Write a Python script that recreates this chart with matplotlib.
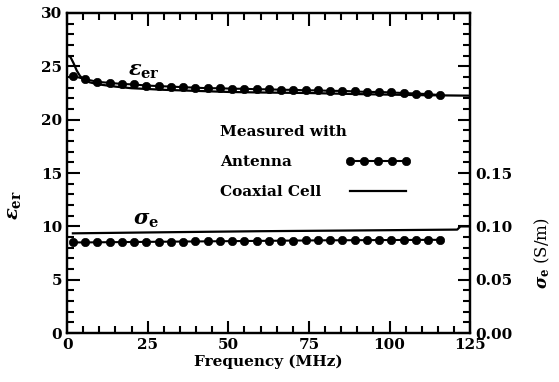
import matplotlib
matplotlib.use('Agg')
import matplotlib.pyplot as plt
from matplotlib.lines import Line2D
from matplotlib.ticker import MultipleLocator, FuncFormatter

plt.rcParams['font.family'] = 'DejaVu Serif'
plt.rcParams['font.weight'] = 'bold'
plt.rcParams['mathtext.fontset'] = 'dejavuserif'

# antenna measurements (MHz)
f_ant = [1.8, 5.6, 9.4, 13.2, 17.0, 20.8, 24.6, 28.4, 32.2, 36.0, 39.8,
         43.6, 47.4, 51.2, 55.0, 58.8, 62.6, 66.4, 70.2, 74.0, 77.8, 81.6,
         85.4, 89.2, 93.0, 96.8, 100.6, 104.4, 108.2, 112.0, 115.8]
eps_ant = [24.1, 23.8, 23.55, 23.45, 23.35, 23.3, 23.2, 23.15, 23.1, 23.05,
           23.0, 22.95, 22.95, 22.9, 22.9, 22.85, 22.85, 22.8, 22.8, 22.75,
           22.75, 22.7, 22.7, 22.65, 22.6, 22.6, 22.55, 22.5, 22.45, 22.4, 22.3]
sig_ant = [0.0850, 0.0850, 0.0851, 0.0852, 0.0853, 0.0854, 0.0855, 0.0856,
           0.0857, 0.0858, 0.0859, 0.0860, 0.0861, 0.0862, 0.0863, 0.0864,
           0.0865, 0.0866, 0.0867, 0.0868, 0.0869, 0.0870, 0.0870, 0.0871,
           0.0871, 0.0872, 0.0872, 0.0873, 0.0873, 0.0874, 0.0874]

# coaxial cell
f_coax = [0, 1, 2, 3, 4, 5, 7, 10, 15, 20, 30, 40, 50, 60, 75, 90, 100, 110, 125]
eps_coax = [26.0, 25.9, 25.3, 24.6, 24.1, 23.8, 23.5, 23.3, 23.1, 22.95, 22.8,
            22.7, 22.6, 22.55, 22.5, 22.4, 22.35, 22.3, 22.25]
f_coax_s = [1.8, 30, 60, 90, 121, 122, 125]
sig_coax = [0.0935, 0.0945, 0.0955, 0.0962, 0.0970, 0.1000, 0.1000]

labels = ['Antenna', 'Coaxial Cell']

fig = plt.figure(figsize=(5.59, 3.82), dpi=100)
ax = fig.add_axes([0.12, 0.128, 0.721, 0.838])
ax2 = ax.twinx()

dot = dict(marker='o', markersize=6, markeredgewidth=0.5)
h1, = ax.plot(f_ant, eps_ant, 'k-', lw=1.5, **dot)
h2, = ax.plot(f_coax, eps_coax, 'k-', lw=1.6)
ax2.plot(f_ant, sig_ant, 'k-', lw=1.5, **dot)
ax2.plot(f_coax_s, sig_coax, 'k-', lw=1.6)

ax.set_xlim(0, 125)
ax.set_ylim(0, 30)
ax2.set_ylim(0, 0.30)

ax.xaxis.set_major_locator(MultipleLocator(25))
ax.xaxis.set_minor_locator(MultipleLocator(5))
ax.yaxis.set_major_locator(MultipleLocator(5))
ax.yaxis.set_minor_locator(MultipleLocator(1))
ax2.yaxis.set_major_locator(MultipleLocator(0.05))
ax2.yaxis.set_minor_locator(MultipleLocator(0.01))
ax2.yaxis.set_major_formatter(FuncFormatter(lambda v, p: '%.2f' % v if v < 0.16 else ''))

ax.tick_params(which='both', direction='in', top=True, right=False, width=1.5, labelsize=11)
ax.tick_params(which='major', length=9)
ax.tick_params(which='minor', length=5)
ax2.tick_params(which='both', direction='in', width=1.5, labelsize=11)
ax2.tick_params(which='major', length=9)
ax2.tick_params(which='minor', length=5)
for a in (ax, ax2):
    for s in a.spines.values():
        s.set_linewidth(1.6)

ax.set_xlabel('Frequency (MHz)', fontsize=11, fontweight='bold', labelpad=2)
ax.set_ylabel(r'$\varepsilon_{\mathbf{er}}$', fontsize=14)
ax.yaxis.set_label_coords(-0.11, 0.4)
ax2.set_ylabel(r'$\sigma_{\mathbf{e}}$ (S/m)', fontsize=12)
ax2.yaxis.set_label_coords(1.155, 0.25)

ax.text(19, 24.6, r'$\varepsilon_{\mathbf{er}}$', fontsize=15, va='center')
ax.text(20.5, 10.6, r'$\sigma_{\mathbf{e}}$', fontsize=15, va='center')

# legend: labels on the left, line samples in a column to the right
common = dict(loc='upper left', frameon=False, title='Measured with',
              borderpad=0, borderaxespad=0, labelspacing=1.05,
              prop={'size': 11, 'weight': 'bold'}, title_fontproperties={'size': 11, 'weight': 'bold'})
blank = [Line2D([], [], color='none') for _ in labels]
leg1 = ax.legend(blank, labels, bbox_to_anchor=(0.38, 0.65), handlelength=0,
                 handletextpad=0, alignment='left', **common)
ax.add_artist(leg1)
leg2 = ax.legend([h1, h2], ['', ''], bbox_to_anchor=(0.69, 0.65), numpoints=5,
                 handlelength=4.3, handletextpad=0, alignment='left', **common)
leg2.get_title().set_alpha(0)

fig.savefig('out.png', dpi=100)
